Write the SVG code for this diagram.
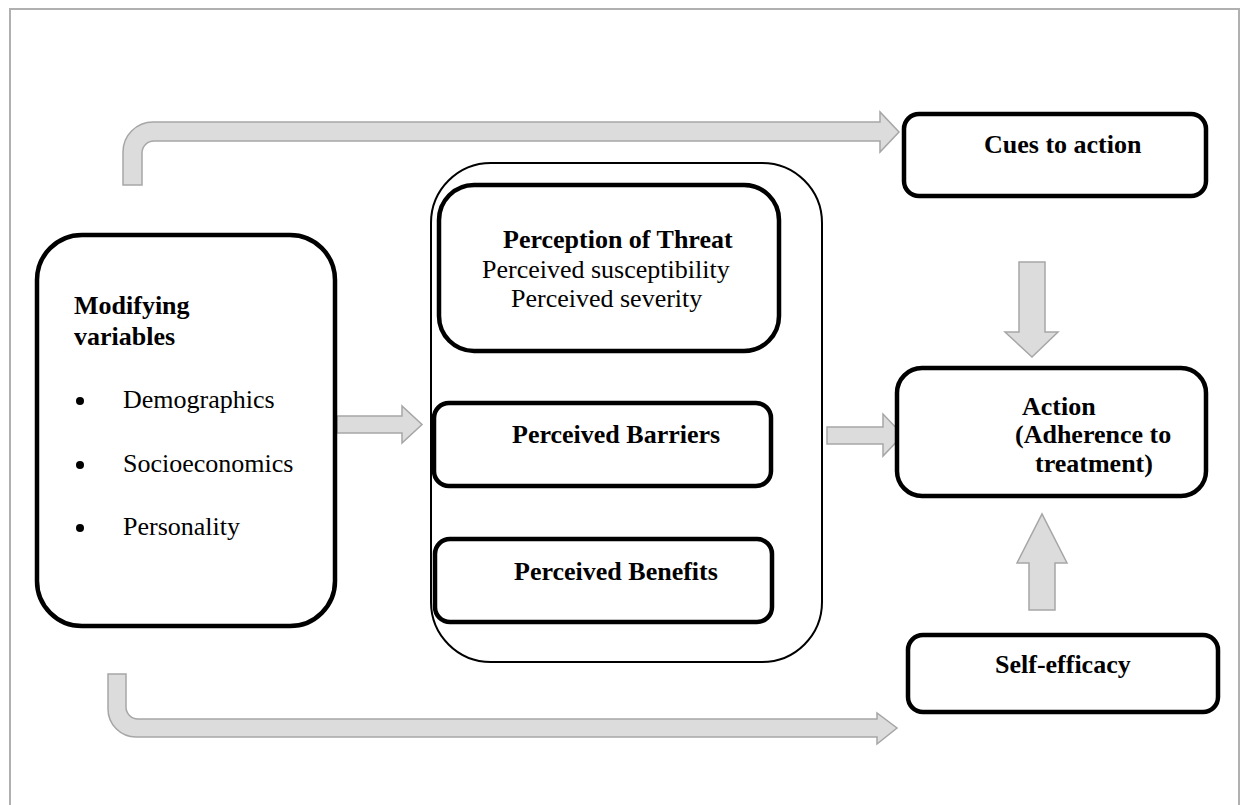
<svg xmlns="http://www.w3.org/2000/svg" width="1247" height="805" viewBox="0 0 1247 805">
<style>
.frame{fill:none;stroke:#b0b0b0;stroke-width:2}
.box{fill:#fff;stroke:#000;stroke-width:4.5}
.outer{fill:#fff;stroke:#000;stroke-width:2}
.arr{fill:#dcdcdc;stroke:#a6a6a6;stroke-width:1.5;stroke-linejoin:miter}
.t{font-family:"Liberation Serif","Times New Roman",serif;font-size:26px;fill:#000}
.b{font-weight:bold}
</style>
<rect x="0" y="0" width="1247" height="805" fill="#fff"/>
<path class="frame" d="M10,810 V9 H1239 V810"/>
<g id="connectors">
<path class="arr" d="M123,185 V152 A30,30 0 0 1 153,122 H880 V112 L899,132 L880,152 V141 H154 A12,12 0 0 0 142,153 V185 Z"/>
<path class="arr" d="M108,674 H126 V707 A12,12 0 0 0 138,719 H877 V713 L897,728 L877,744 V737 H136 A28,28 0 0 1 108,709 Z"/>
<path class="arr" d="M337,416 H402 V406 L422,424.5 L402,443 V433 H337 Z"/>
<path class="arr" d="M827,427 H883 V414 L903,435 L883,456 V444 H827 Z"/>
<path class="arr" d="M1019,262 H1045 V332 H1058 L1032,357 L1005,332 H1019 Z"/>
<path class="arr" d="M1029,610 V563 H1017 L1042,514 L1067,563 H1055 V610 Z"/>
</g>
<g id="modifying">
<rect class="box" x="37" y="235" width="298" height="391" rx="45"/>
<text class="t b" x="74" y="314">Modifying</text>
<text class="t b" x="74" y="345">variables</text>
<circle cx="80" cy="401" r="4"/>
<text class="t" x="123" y="408">Demographics</text>
<circle cx="80" cy="465" r="4"/>
<text class="t" x="123" y="472">Socioeconomics</text>
<circle cx="80" cy="528" r="4"/>
<text class="t" x="123" y="535">Personality</text>
</g>
<g id="perception-group">
<rect class="outer" x="431" y="163" width="391" height="499" rx="60"/>
</g>
<g id="threat">
<rect class="box" x="439" y="185" width="340" height="166" rx="35"/>
<text class="t b" x="503" y="248">Perception of Threat</text>
<text class="t" x="482" y="278">Perceived susceptibility</text>
<text class="t" x="511" y="307">Perceived severity</text>
</g>
<g id="barriers">
<rect class="box" x="434" y="403" width="337" height="83" rx="15"/>
<text class="t b" x="512" y="443">Perceived Barriers</text>
</g>
<g id="benefits">
<rect class="box" x="435" y="539" width="337" height="83" rx="15"/>
<text class="t b" x="514" y="580">Perceived Benefits</text>
</g>
<g id="cues">
<rect class="box" x="904" y="114" width="302" height="82" rx="15"/>
<text class="t b" x="984" y="153">Cues to action</text>
</g>
<g id="action">
<rect class="box" x="897" y="368" width="309" height="128" rx="25"/>
<text class="t b" x="1022" y="415">Action</text>
<text class="t b" x="1015" y="443">(Adherence to</text>
<text class="t b" x="1035" y="472">treatment)</text>
</g>
<g id="selfefficacy">
<rect class="box" x="908" y="635" width="310" height="77" rx="15"/>
<text class="t b" x="995" y="673">Self-efficacy</text>
</g>
</svg>
